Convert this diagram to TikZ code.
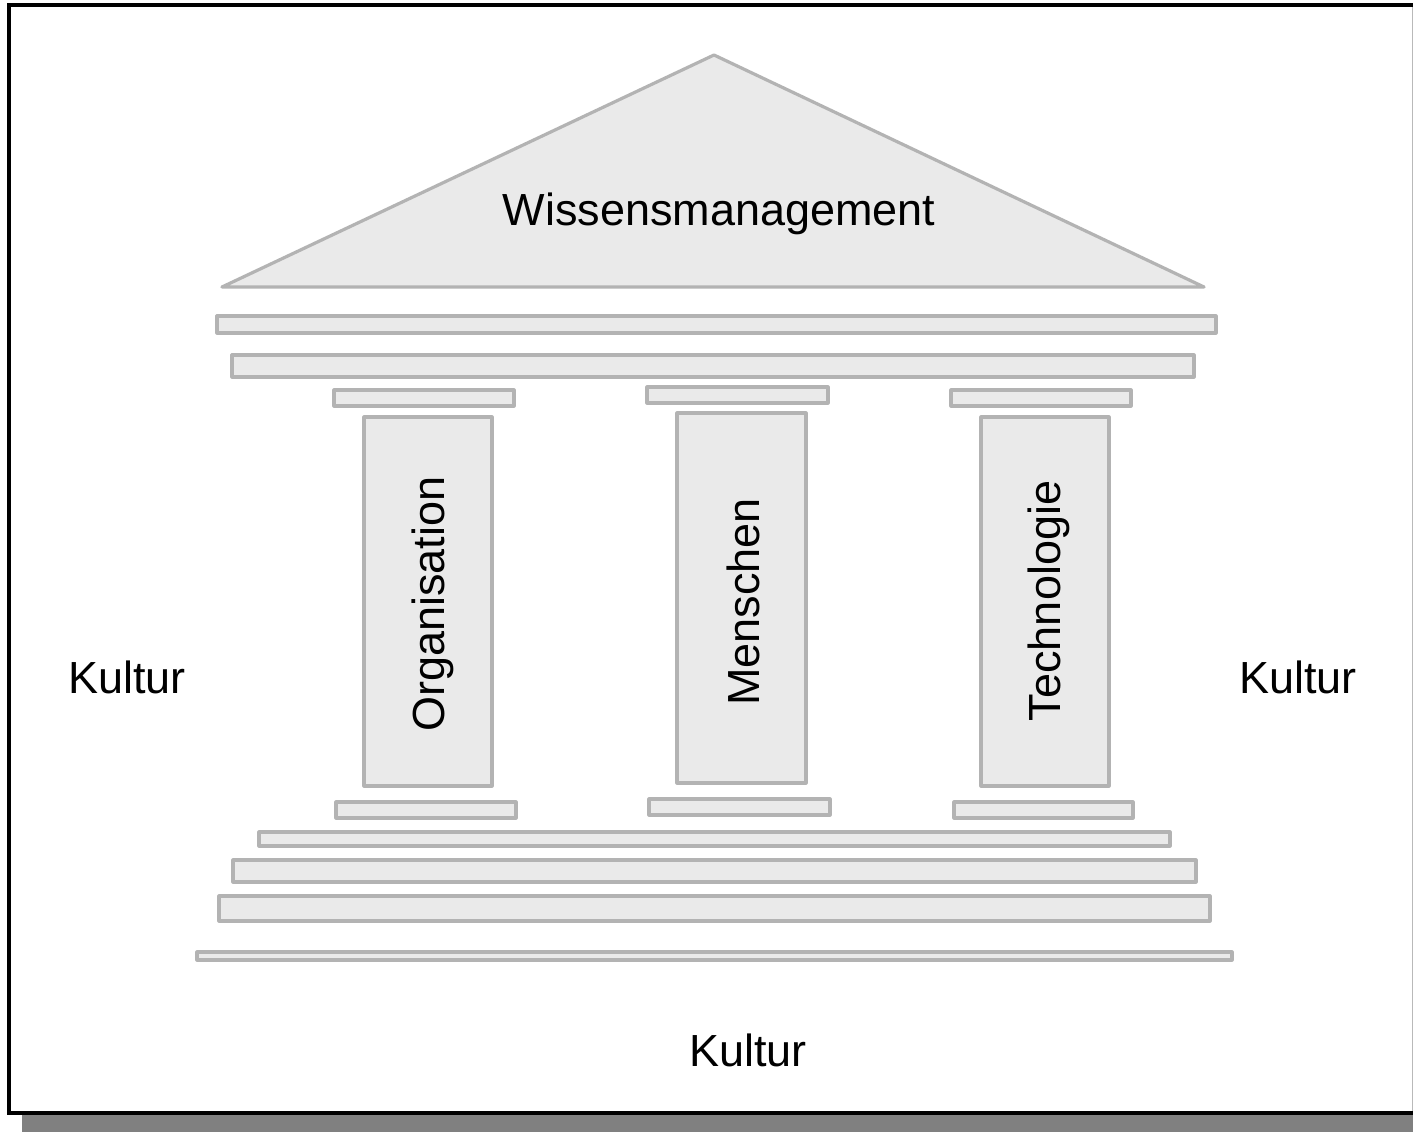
\documentclass[tikz,border=0pt]{standalone}
\usepackage{fontspec}
\setmainfont{Liberation Sans}
\definecolor{platefill}{HTML}{EAEAEA}
\definecolor{plateline}{HTML}{B3B3B3}
\definecolor{shadowgray}{HTML}{808080}
\tikzset{
  plate/.style={draw=plateline, fill=platefill, line width=3.2pt, line join=round},
  label/.style={inner sep=0pt, font=\fontsize{45}{54}\selectfont},
  vlabel/.style={label, rotate=90}
}
\begin{document}
\begin{tikzpicture}[x=1pt,y=-1pt]
\useasboundingbox (0,0) rectangle (1413,1132);
% shadow and frame
\fill[shadowgray] (22,20) rectangle (1440,1132);
\draw[line width=4pt, fill=white] (9,5.5) rectangle (1440,1113);
\draw[line width=1pt, gray!55] (1412.5,7.5) -- (1412.5,1111);
% roof
\draw[plate] (714,55) -- (1204,287) -- (222,287) -- cycle;
\node[label] (roof) at (719,214) {Wissensmanagement};
% entablature
\draw[plate] (217,316) rectangle (1216,333);
\draw[plate] (232,355) rectangle (1194,377);
% capitals
\draw[plate] (334,390) rectangle (514,406);
\draw[plate] (647,387) rectangle (828,403);
\draw[plate] (951,390) rectangle (1131,406);
% columns
\draw[plate] (364,417) rectangle (492,786);
\draw[plate] (677,413) rectangle (806,783);
\draw[plate] (981,417) rectangle (1109,786);
\node[vlabel] (org) at (433,604) {Organisation};
\node[vlabel] (men) at (743,602) {Menschen};
\node[vlabel] (tech) at (1049,601) {Technologie};
% bases
\draw[plate] (336,802) rectangle (516,818);
\draw[plate] (649,799) rectangle (830,815);
\draw[plate] (954,802) rectangle (1133,818);
% steps
\draw[plate] (259,832) rectangle (1170,846);
\draw[plate] (233,860) rectangle (1196,882);
\draw[plate] (219,896) rectangle (1210,921);
\draw[plate] (197,952) rectangle (1232,960);
% culture labels
\node[label] (kl) at (127,677) {Kultur};
\node[label] (kr) at (1298,677) {Kultur};
\node[label] (kb) at (748,1050) {Kultur};
\end{tikzpicture}
\end{document}
